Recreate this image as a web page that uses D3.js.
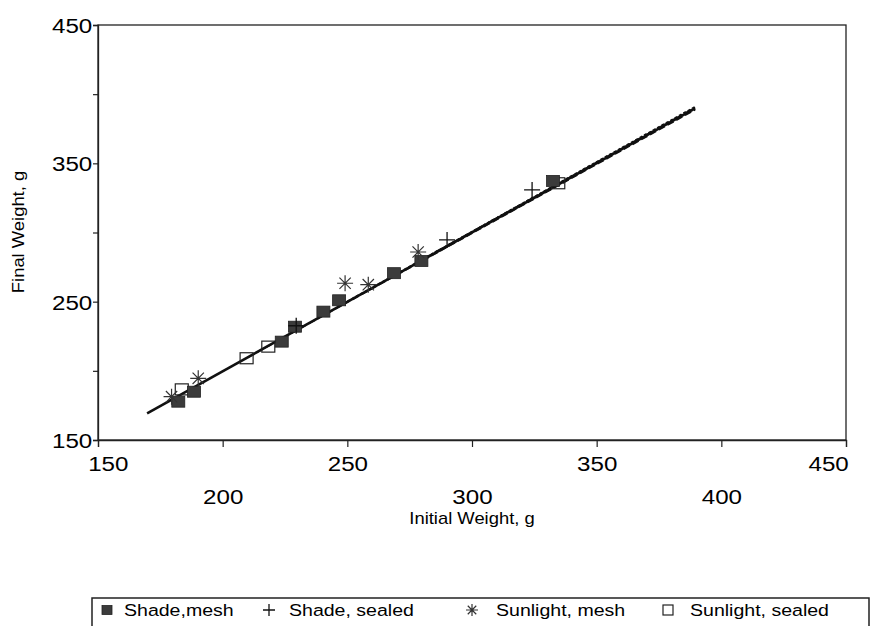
<!DOCTYPE html>
<html>
<head>
<meta charset="utf-8">
<script src="https://cdn.jsdelivr.net/npm/d3@7"></script>
<style>
  body { margin: 0; background: #fff; }
  svg { display: block; }
  text { font-family: "Liberation Sans", Arial, sans-serif; fill: #000; }
</style>
</head>
<body>
<div id="chart"></div>
<script>
// values, in grams
var shadeMesh = [[182.2,177.7],[188.5,184.9],[223.7,221.1],[229.0,231.9],[240.4,242.8],[246.7,251.0],[268.7,270.6],[279.7,279.4],[332.5,337.3]];
var shadeSealed = [[229.5,232.6],[290.0,294.6],[324.1,330.8]];
var sunlightMesh = [[179.5,181.3],[190.2,194.6],[249.1,263.3],[258.4,262.3],[278.4,285.9]];
var sunlightSealed = [[183.6,186.6],[209.6,209.1],[218.3,217.5],[334.6,335.6]];

// fitted lines, one per treatment [x0, y0, x1, y1]
var fitLines = [
  [169.7, 169.3, 389.5, 389.8],
  [210.0, 209.6, 389.5, 388.7],
  [250.0, 250.2, 389.5, 391.0],
  [280.0, 280.6, 389.5, 390.4]
];

var xTicks = [150, 200, 250, 300, 350, 400, 450];
var yTicks = [150, 200, 250, 300, 350, 400, 450];
var yLabels = [150, 250, 350, 450];
var legendLabels = ["Shade,mesh", "Shade, sealed", "Sunlight, mesh", "Sunlight, sealed"];

var width = 871, height = 626;
// note: "top" is taken by window.top, so plot edges get their own names
var plotLeft = 98, plotRight = 846, plotTop = 25, plotBottom = 440;
var stretch = "scale(1.15,1)";

var svg = d3.select("#chart").append("svg")
    .attr("width", width)
    .attr("height", height);

var x = d3.scaleLinear().domain([150, 450]).range([plotLeft, plotRight]);
var y = d3.scaleLinear().domain([150, 450]).range([plotBottom, plotTop]);

// frame
svg.append("rect")
    .attr("x", plotLeft).attr("y", plotTop)
    .attr("width", plotRight - plotLeft).attr("height", plotBottom - plotTop)
    .attr("fill", "none").attr("stroke", "#222").attr("stroke-width", 1.3);

// bottom axis, labels in two rows
var xAxis = d3.axisBottom(x).tickValues(xTicks).tickSize(7).tickFormat("");
var gx = svg.append("g").attr("transform", "translate(0," + plotBottom + ")").call(xAxis);
gx.select(".domain").attr("stroke", "#222").attr("stroke-width", 1.3);
gx.selectAll(".tick line").attr("stroke", "#222").attr("stroke-width", 1.2);
gx.selectAll(".tick").append("text")
    .attr("text-anchor", function(d){ return d == 150 ? "start" : (d == 450 ? "end" : "middle"); })
    .attr("x", function(d){ return d == 150 ? -9 : (d == 450 ? 2 : 0); })
    .attr("y", function(d){ return (d / 50) % 2 == 1 ? 31 : 64; })
    .attr("transform", stretch)
    .style("font-size", "21px")
    .text(function(d){ return d; });

// left axis, only every other label
var yAxis = d3.axisLeft(y).tickValues(yTicks).tickSize(5).tickFormat("");
var gy = svg.append("g").attr("transform", "translate(" + plotLeft + ",0)").call(yAxis);
gy.select(".domain").attr("stroke", "#222").attr("stroke-width", 1.3);
gy.selectAll(".tick line").attr("stroke", "#222").attr("stroke-width", 1.2);
gy.selectAll(".tick").filter(function(d){ return yLabels.indexOf(d) >= 0; })
    .append("text")
    .attr("text-anchor", "end")
    .attr("x", -5)
    .attr("y", 7.5)
    .attr("transform", stretch)
    .style("font-size", "21px")
    .text(function(d){ return d; });

// axis titles
svg.append("text")
    .attr("transform", "translate(472,524) " + stretch)
    .attr("text-anchor", "middle")
    .style("font-size", "16px")
    .text("Initial Weight, g");

svg.append("text")
    .attr("transform", "translate(24,232) rotate(-90) scale(1.15,1)")
    .attr("text-anchor", "middle")
    .style("font-size", "16px")
    .text("Final Weight, g");

// regression lines
var dashes = [null, "7,3", "3,2", "9,2,2,2"];
svg.selectAll(".fit").data(fitLines).enter().append("line")
    .attr("class", "fit")
    .attr("x1", function(d){ return x(d[0]); })
    .attr("y1", function(d){ return y(d[1]); })
    .attr("x2", function(d){ return x(d[2]); })
    .attr("y2", function(d){ return y(d[3]); })
    .attr("stroke", "#111")
    .attr("stroke-width", function(d, i){ return i == 0 ? 2.6 : 1.6; })
    .attr("stroke-dasharray", function(d, i){ return dashes[i]; });

// marker drawing helpers
function filledSquare(g, w, h) {
  g.append("rect").attr("x", -w/2).attr("y", -h/2).attr("width", w).attr("height", h)
    .attr("fill", "#3b3b3b").attr("stroke", "#222").attr("stroke-width", 0.8);
}
function hollowSquare(g, w, h) {
  g.append("rect").attr("x", -w/2).attr("y", -h/2).attr("width", w).attr("height", h)
    .attr("fill", "none").attr("stroke", "#222").attr("stroke-width", 1.2);
}
function plus(g, r) {
  g.append("path").attr("d", "M" + (-r) + ",0H" + r + "M0," + (-r) + "V" + r)
    .attr("stroke", "#111").attr("stroke-width", 1.3).attr("fill", "none");
}
function star(g, r) {
  var d = "";
  for (var i = 0; i < 4; i++) {
    var a = i * Math.PI / 4;
    d += "M" + (-r * Math.cos(a)) + "," + (-r * Math.sin(a)) + "L" + (r * Math.cos(a)) + "," + (r * Math.sin(a));
  }
  g.append("path").attr("d", d).attr("stroke", "#333").attr("stroke-width", 1.2).attr("fill", "none");
}

function drawPoints(data, draw) {
  svg.append("g").selectAll("g").data(data).enter().append("g")
    .attr("transform", function(d){ return "translate(" + x(d[0]) + "," + y(d[1]) + ")"; })
    .each(function(){ draw(d3.select(this)); });
}

drawPoints(sunlightSealed, function(g){ hollowSquare(g, 13, 11); });
drawPoints(shadeMesh, function(g){ filledSquare(g, 13, 11); });
drawPoints(shadeSealed, function(g){ plus(g, 8); });
drawPoints(sunlightMesh, function(g){ star(g, 8); });

// legend box, cut off at the bottom of the page
svg.append("path")
    .attr("d", "M92,626V598H869V626")
    .attr("fill", "none").attr("stroke", "#222").attr("stroke-width", 1.5);

var legendMarkX = [107, 269, 472, 668];
var legendTextX = [124, 289, 496, 690];
var legendDraw = [
  function(g){ filledSquare(g, 10, 9); },
  function(g){ plus(g, 6); },
  function(g){ star(g, 6); },
  function(g){ hollowSquare(g, 10, 10); }
];

legendLabels.forEach(function(lab, i){
  var g = svg.append("g").attr("transform", "translate(" + legendMarkX[i] + ",610)");
  legendDraw[i](g);
  svg.append("text")
      .attr("transform", "translate(" + legendTextX[i] + ",616) " + stretch)
      .style("font-size", "17px")
      .text(lab);
});
</script>
</body>
</html>
